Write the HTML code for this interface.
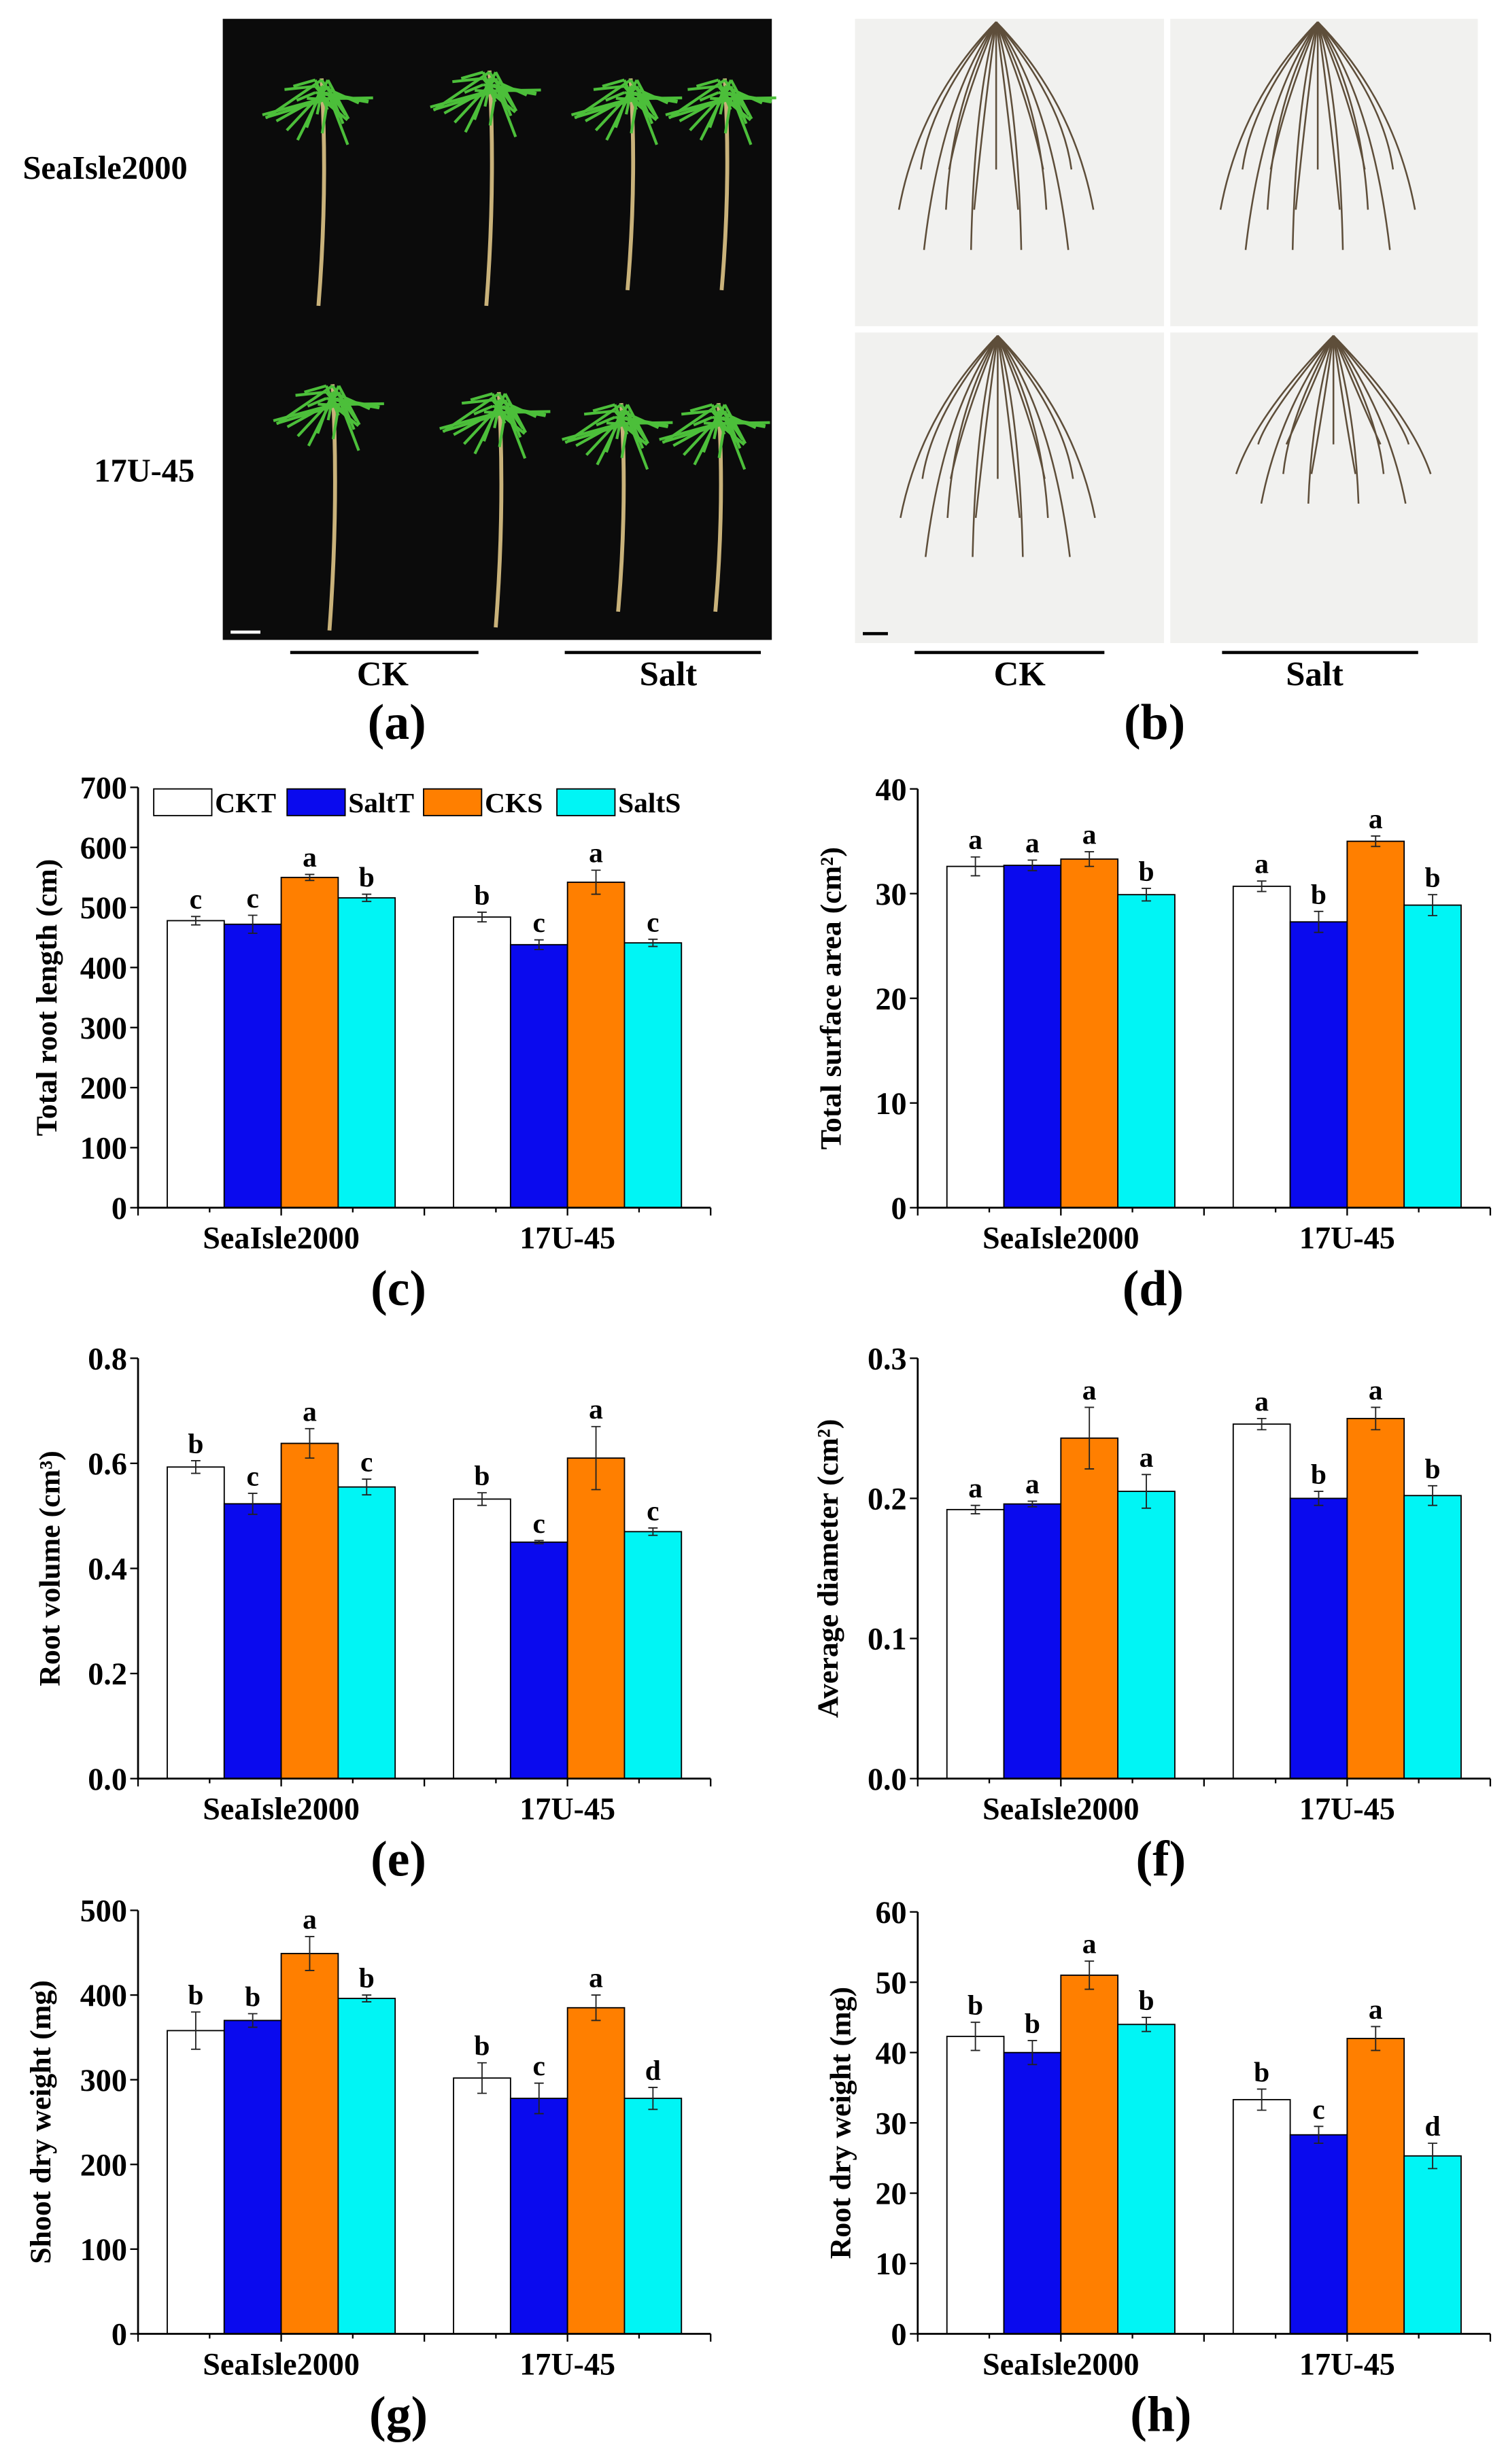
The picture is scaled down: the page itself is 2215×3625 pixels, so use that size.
<!DOCTYPE html>
<html><head><meta charset="utf-8"><style>
html,body{margin:0;padding:0;background:#fff}
svg{display:block}
text{font-family:"Liberation Serif",serif;font-weight:bold;fill:#000}
</style></head><body>
<svg id="fig" width="2215" height="3625" viewBox="0 0 960 1571" preserveAspectRatio="none" xmlns="http://www.w3.org/2000/svg">
<g id="photos">
  <rect x="142" y="12" width="350" height="396" fill="#0b0b0b"/>
  <g id="plantsA"></g>
  <line x1="147" y1="403" x2="166" y2="403" stroke="#fff" stroke-width="2"/>
  <rect x="545" y="12" width="197" height="196" fill="#f1f1ef"/>
  <rect x="746" y="12" width="196" height="196" fill="#f1f1ef"/>
  <rect x="545" y="212" width="197" height="198" fill="#f1f1ef"/>
  <rect x="746" y="212" width="196" height="198" fill="#f1f1ef"/>
  <g id="rootsB"></g>
  <line x1="550" y1="404" x2="566" y2="404" stroke="#000" stroke-width="2"/>
  <text x="67" y="114" font-size="21" text-anchor="middle">SeaIsle2000</text>
  <text x="92" y="307" font-size="21" text-anchor="middle">17U-45</text>
  <line x1="185" y1="416" x2="305" y2="416" stroke="#000" stroke-width="2"/>
  <line x1="360" y1="416" x2="485" y2="416" stroke="#000" stroke-width="2"/>
  <line x1="583" y1="416" x2="704" y2="416" stroke="#000" stroke-width="2"/>
  <line x1="779" y1="416" x2="904" y2="416" stroke="#000" stroke-width="2"/>
  <text x="244" y="437" font-size="22" text-anchor="middle">CK</text>
  <text x="426" y="437" font-size="22" text-anchor="middle">Salt</text>
  <text x="650" y="437" font-size="22" text-anchor="middle">CK</text>
  <text x="838" y="437" font-size="22" text-anchor="middle">Salt</text>
  <text x="253" y="471" font-size="32" text-anchor="middle">(a)</text>
  <text x="736" y="471" font-size="32" text-anchor="middle">(b)</text>
</g>
<g id="charts"></g>
</svg>
<script>
// ---- shared data ----
const categories = ["SeaIsle2000", "17U-45"];
const seriesNames = ["CKT", "SaltT", "CKS", "SaltS"];
const seriesColors = ["#ffffff", "#0a0aee", "#ff7f00", "#00f5f5"];

// (c) total root length
const rootLenValues = [[478, 472, 550, 516], [484, 438, 542, 441]];
const rootLenErrors = [[7, 15, 5, 6], [8, 8, 20, 6]];
const rootLenLetters = [["c", "c", "a", "b"], ["b", "c", "a", "c"]];
const rootLenTicks = ["0", "100", "200", "300", "400", "500", "600", "700"];
// (d) total surface area
const surfValues = [[32.6, 32.7, 33.3, 29.9], [30.7, 27.3, 35.0, 28.9]];
const surfErrors = [[0.9, 0.5, 0.7, 0.6], [0.5, 1.0, 0.5, 1.0]];
const surfLetters = [["a", "a", "a", "b"], ["a", "b", "a", "b"]];
const surfTicks = ["0", "10", "20", "30", "40"];
// (e) root volume
const volValues = [[0.593, 0.523, 0.638, 0.555], [0.532, 0.450, 0.610, 0.470]];
const volErrors = [[0.012, 0.02, 0.028, 0.015], [0.012, 0.003, 0.06, 0.007]];
const volLetters = [["b", "c", "a", "c"], ["b", "c", "a", "c"]];
const volTicks = ["0.0", "0.2", "0.4", "0.6", "0.8"];
// (f) average diameter
const diamValues = [[0.192, 0.196, 0.243, 0.205], [0.253, 0.200, 0.257, 0.202]];
const diamErrors = [[0.003, 0.002, 0.022, 0.012], [0.004, 0.005, 0.008, 0.007]];
const diamLetters = [["a", "a", "a", "a"], ["a", "b", "a", "b"]];
const diamTicks = ["0.0", "0.1", "0.2", "0.3"];
// (g) shoot dry weight
const shootValues = [[358, 370, 449, 396], [302, 278, 385, 278]];
const shootErrors = [[22, 8, 20, 4], [18, 18, 15, 13]];
const shootLetters = [["b", "b", "a", "b"], ["b", "c", "a", "d"]];
const shootTicks = ["0", "100", "200", "300", "400", "500"];
// (h) root dry weight
const rdwValues = [[42.3, 40.0, 51.0, 44.0], [33.3, 28.3, 42.0, 25.3]];
const rdwErrors = [[2.0, 1.7, 2.0, 1.0], [1.5, 1.2, 1.7, 1.8]];
const rdwLetters = [["b", "b", "a", "b"], ["b", "c", "a", "d"]];
const rdwTicks = ["0", "10", "20", "30", "40", "50", "60"];

const NS = "http://www.w3.org/2000/svg";
function mk(parent, tag, attrs, txt) {
  const e = document.createElementNS(NS, tag);
  for (const k in attrs) e.setAttribute(k, attrs[k]);
  if (txt !== undefined) e.textContent = txt;
  parent.appendChild(e);
  return e;
}

const charts = document.getElementById("charts");

function drawChart(p, values, errors, letters, ticks) {
  const g = mk(charts, "g", {});
  
  
  const ymax = parseFloat(ticks[ticks.length - 1]);
  const ys = v => p.y0 - (v / ymax) * (p.y0 - p.y1);
  const bandW = (p.x1 - p.x0) / categories.length;
  const barW = bandW * 0.199;
  categories.forEach((cat, ci) => {
    const center = p.x0 + bandW * (ci + 0.5);
    const start = center - barW * 2;
    seriesNames.forEach((s, si) => {
      const v = values[ci][si], er = errors[ci][si];
      const x = start + si * barW;
      const r = mk(g, "rect", {x: x, y: ys(v), width: barW, height: p.y0 - ys(v), fill: seriesColors[si], stroke: "#000", "stroke-width": 0.8});
      
      
      const cx = x + barW / 2;
      const eb = mk(g, "path", {d: `M${cx},${ys(v + er)}V${ys(v - er)}M${cx - 3},${ys(v + er)}H${cx + 3}M${cx - 3},${ys(v - er)}H${cx + 3}`, stroke: "#222", "stroke-width": 0.8, fill: "none"});
      
      
      const lt = mk(g, "text", {x: cx, y: ys(v + er) - 5, "font-size": 18, "text-anchor": "middle"}, letters[ci][si]);
      
      
    });
    const cl = mk(g, "text", {x: center, y: p.y0 + 26, "font-size": 20, "text-anchor": "middle"}, cat);
    
    
  });
  const ax = mk(g, "path", {d: `M${p.x0},${p.y1}V${p.y0}H${p.x1}`, stroke: "#000", "stroke-width": 1.2, fill: "none"});
  
  
  for (let k = 0; k <= 8; k++) {
    const x = p.x0 + (p.x1 - p.x0) * k / 8;
    const len = k % 2 === 0 ? 5 : 3;
    const t = mk(g, "line", {x1: x, y1: p.y0, x2: x, y2: p.y0 + len, stroke: "#000", "stroke-width": 1});
    
    
  }
  ticks.forEach(tk => {
    const y = ys(parseFloat(tk));
    const t = mk(g, "line", {x1: p.x0 - 5, y1: y, x2: p.x0, y2: y, stroke: "#000", "stroke-width": 1});
    
    
    const tl = mk(g, "text", {x: p.x0 - 7, y: y + 7, "font-size": 20, "text-anchor": "end"}, tk);
    
    
  });
  const yl = mk(g, "text", {x: p.lx, y: (p.y0 + p.y1) / 2, "font-size": 19, "text-anchor": "middle", transform: `rotate(-90 ${p.lx} ${(p.y0 + p.y1) / 2})`}, p.ylabel);
  
  
  const pl = mk(g, "text", {x: p.px, y: p.y0 + 62, "font-size": 32, "text-anchor": "middle"}, p.letter);
  
  
  return g;
}

drawChart({name: "chart-total-root-length", x0: 88, x1: 453, y0: 770, y1: 502, lx: 36, px: 254, ylabel: "Total root length (cm)", letter: "(c)"}, rootLenValues, rootLenErrors, rootLenLetters, rootLenTicks);
drawChart({name: "chart-total-surface-area", x0: 585, x1: 950, y0: 770, y1: 503, lx: 536, px: 735, ylabel: "Total surface area (cm²)", letter: "(d)"}, surfValues, surfErrors, surfLetters, surfTicks);
drawChart({name: "chart-root-volume", x0: 88, x1: 453, y0: 1134, y1: 866, lx: 38, px: 254, ylabel: "Root volume (cm³)", letter: "(e)"}, volValues, volErrors, volLetters, volTicks);
drawChart({name: "chart-average-diameter", x0: 585, x1: 950, y0: 1134, y1: 866, lx: 534, px: 740, ylabel: "Average diameter (cm²)", letter: "(f)"}, diamValues, diamErrors, diamLetters, diamTicks);
drawChart({name: "chart-shoot-dry-weight", x0: 88, x1: 453, y0: 1488, y1: 1218, lx: 32, px: 254, ylabel: "Shoot dry weight (mg)", letter: "(g)"}, shootValues, shootErrors, shootLetters, shootTicks);
drawChart({name: "chart-root-dry-weight", x0: 585, x1: 950, y0: 1488, y1: 1219, lx: 542, px: 740, ylabel: "Root dry weight (mg)", letter: "(h)"}, rdwValues, rdwErrors, rdwLetters, rdwTicks);

const lg = mk(charts, "g", {});


const legendX = [98, 183, 270, 355];
seriesNames.forEach((s, i) => {
  const b = mk(lg, "rect", {x: legendX[i], y: 503, width: 37, height: 17, fill: seriesColors[i], stroke: "#000", "stroke-width": 0.8});
  
  
  const t = mk(lg, "text", {x: legendX[i] + 39, y: 518, "font-size": 18}, s);
  
  
});

// decorative plants (panel a)
const pa = document.getElementById("plantsA");
const plantTops = [[205, 45, 195], [312, 40, 195], [402, 45, 185], [462, 45, 185], [212, 240, 402], [318, 245, 400], [396, 252, 390], [458, 252, 390]];
plantTops.forEach(pt => {
  const [x, y, yb] = pt;
  const st = mk(pa, "path", {d: `M${x},${y + 5} Q${x + 4},${(y + yb) / 2} ${x - 2},${yb}`, stroke: "#c9b27a", "stroke-width": 2.5, fill: "none"});
  
  
  for (let k = 0; k < 24; k++) {
    const ang = Math.PI * (1.0 + k * 0.045);
    const L = 18 + (k % 5) * 6;
    const lf = mk(pa, "line", {x1: x + (k % 3 - 1) * 4, y1: y + 6 + (k % 4) * 4, x2: x + Math.cos(ang) * L * (k % 2 ? -1 : 1), y2: y + 10 + Math.abs(Math.sin(ang)) * L * 0.5 + (k % 3) * 9, stroke: "#4cbf3a", "stroke-width": 1.8});
    
    
  }
});
// decorative roots (panel b)
const rb = document.getElementById("rootsB");
const rootOrigins = [[635, 14, 185], [840, 14, 185], [636, 214, 380], [850, 214, 340]];
rootOrigins.forEach(o => {
  const [x, y, yb] = o;
  for (let k = -7; k <= 7; k++) {
    const r = mk(rb, "path", {d: `M${x},${y} Q${x + k * 7},${y + 50} ${x + k * 8 + (k % 2) * 6},${y + (yb - y) * (0.55 + (Math.abs(k) % 3) * 0.15)}`, stroke: "#5e4e3a", "stroke-width": 1.1, fill: "none"});
    
    
  }
});
</script>
</body></html>
